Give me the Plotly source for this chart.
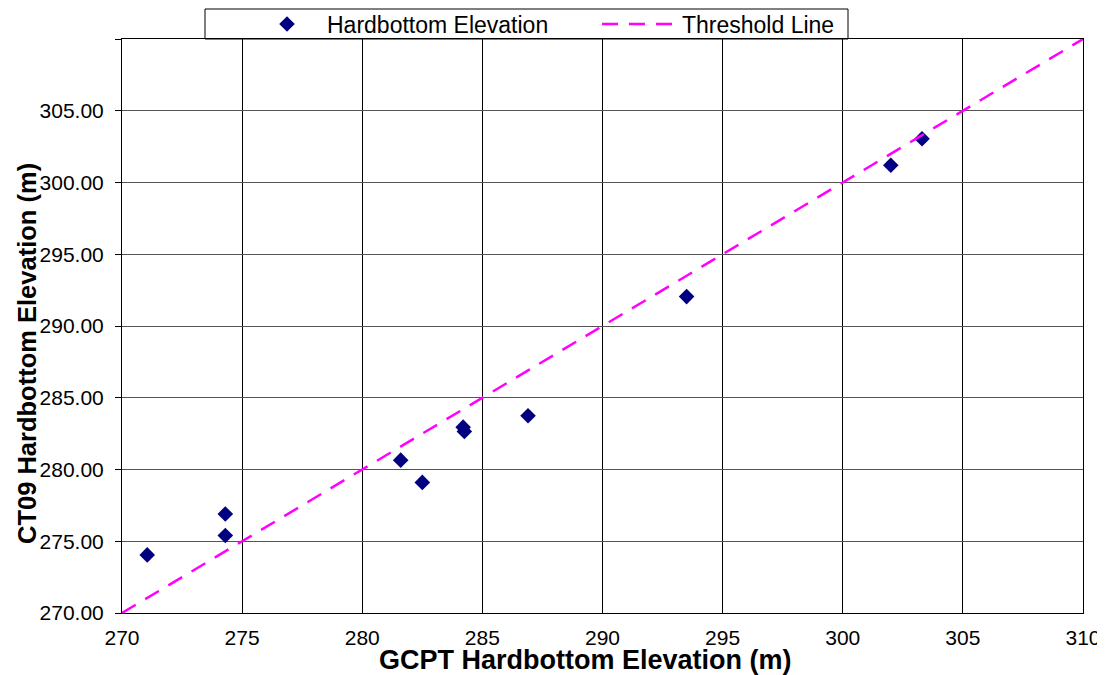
import plotly.graph_objects as go

# Data
gcpt = [271.05, 274.3, 274.3, 281.6, 282.5, 284.2, 284.25, 286.9, 293.5, 302.0, 303.3]
ct09 = [274.05, 276.9, 275.4, 280.65, 279.1, 282.95, 282.65, 283.75, 292.05, 301.2, 303.05]
threshold_x = [270, 310]
threshold_y = [270, 310]
x_ticks = [270, 275, 280, 285, 290, 295, 300, 305, 310]
y_ticks = [270, 275, 280, 285, 290, 295, 300, 305, 310]
y_tick_text = ["270.00", "275.00", "280.00", "285.00", "290.00", "295.00", "300.00", "305.00", ""]

FONT = "Arial, Liberation Sans, Helvetica, sans-serif"

fig = go.Figure()
fig.add_trace(go.Scatter(
    x=gcpt, y=ct09, mode="markers", name="Hardbottom Elevation",
    marker=dict(symbol="diamond", size=12, color="#000080"),
    legend="legend", showlegend=True,
))
fig.add_trace(go.Scatter(
    x=threshold_x, y=threshold_y, mode="lines", name="Threshold Line",
    line=dict(color="#FF00FF", width=2.5, dash="16px,11px"),
    legend="legend2", showlegend=True,
))

OFF = 8  # page offset of the figure inside the browser window
W, H = 1105 - OFF, 675 - OFF
L = 122 - OFF
T = 39 - OFF
R = W - (1083 - OFF)
B = H - (613 - OFF)
pw = W - L - R
ph = H - T - B

def px_x(p):  # p: window pixel
    return (p - OFF - L) / pw

def px_y(p):
    return (H - B - (p - OFF)) / ph

fig.update_layout(
    width=W, height=H,
    margin=dict(l=L, r=R, t=T, b=B, autoexpand=False),
    showlegend=True,
    paper_bgcolor="white", plot_bgcolor="white",
    font=dict(family=FONT, color="black", size=21),
    legend=dict(x=px_x(247), y=px_y(24), xanchor="left", yanchor="middle",
                orientation="h", bgcolor="rgba(0,0,0,0)", borderwidth=0,
                itemwidth=70, font=dict(size=23, family=FONT)),
    legend2=dict(x=px_x(597), y=px_y(24), xanchor="left", yanchor="middle",
                 orientation="h", bgcolor="rgba(0,0,0,0)", borderwidth=0,
                 itemwidth=75, font=dict(size=23, family=FONT)),
    xaxis=dict(range=[270, 310], tickvals=x_ticks, ticks="", showgrid=True,
               gridcolor="#000000", gridwidth=1, showline=True, linecolor="black",
               linewidth=1, mirror=True, zeroline=False, ticklabelstandoff=6,
               ticklabeloverflow="allow",
               tickfont=dict(size=21, family=FONT)),
    yaxis=dict(range=[270, 310], tickvals=y_ticks, ticktext=y_tick_text,
               ticks="outside", ticklen=6, tickcolor="black", showgrid=True,
               gridcolor="#555555", gridwidth=1, showline=True, linecolor="black",
               linewidth=1, mirror=True, zeroline=False, ticklabelstandoff=7,
               tickfont=dict(size=21, family=FONT)),
    shapes=[dict(type="rect", xref="paper", yref="paper",
                 x0=px_x(205), x1=px_x(848), y0=px_y(39), y1=px_y(9),
                 line=dict(color="black", width=1), fillcolor="rgba(0,0,0,0)")],
    annotations=[
        dict(text="<b>GCPT Hardbottom Elevation (m)</b>", xref="paper", yref="paper",
             x=px_x(585), y=px_y(660), xanchor="center", yanchor="middle",
             showarrow=False, font=dict(size=27, family=FONT, color="black")),
        dict(text="<b>CT09 Hardbottom Elevation (m)</b>", xref="paper", yref="paper",
             x=px_x(27), y=px_y(354), xanchor="center", yanchor="middle",
             textangle=-90, showarrow=False,
             font=dict(size=25.5, family=FONT, color="black")),
    ],
)

fig.write_html("out.html")
